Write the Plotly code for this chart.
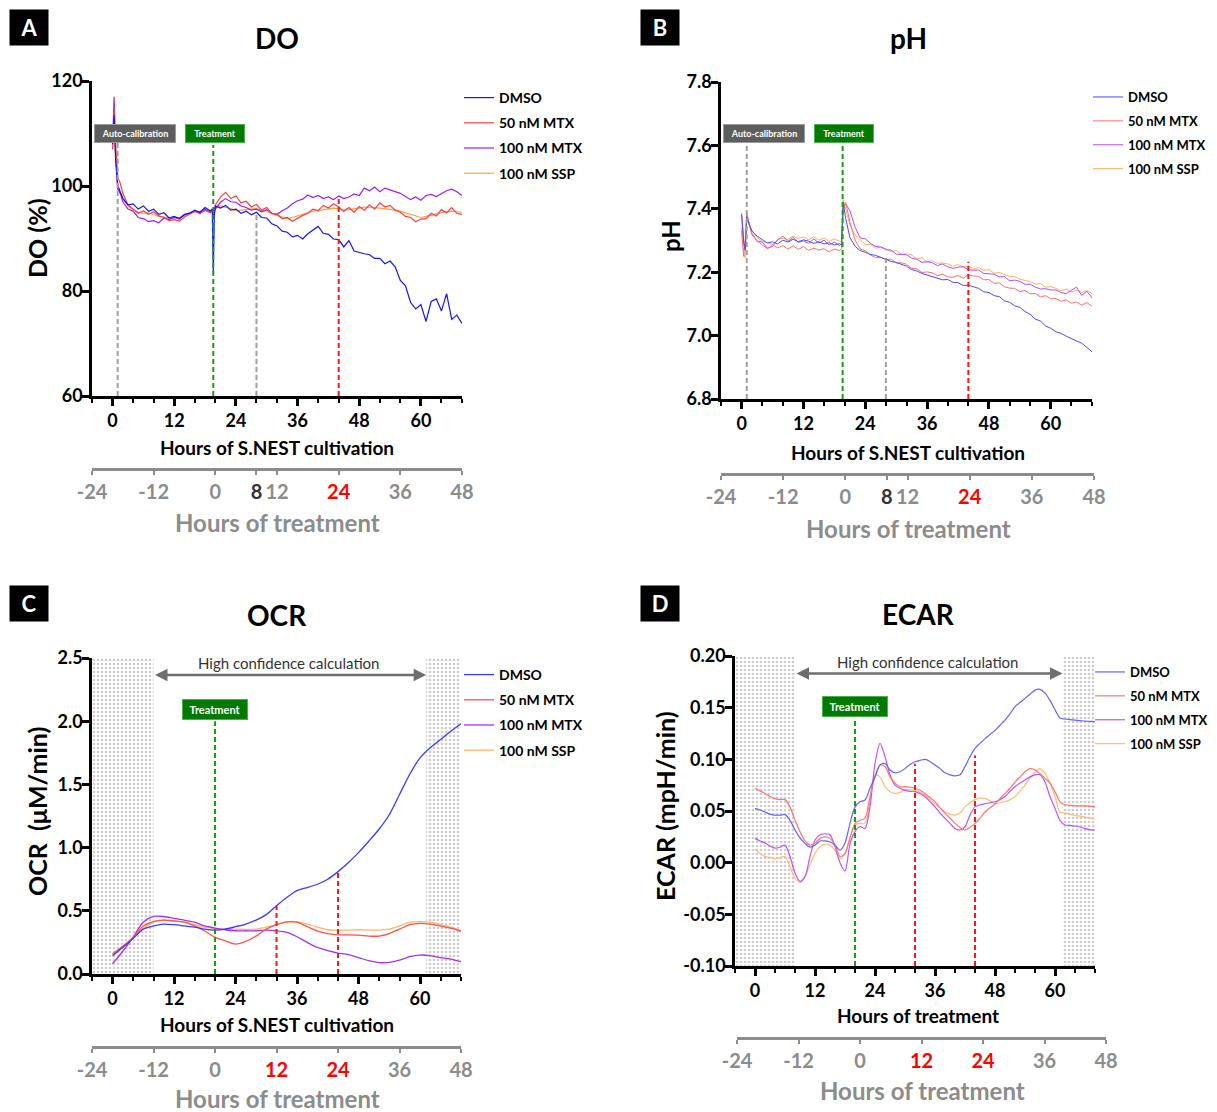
import plotly.graph_objects as go

# ---------------- data ----------------
SERIES_NAMES = ["DMSO", "50 nM MTX", "100 nM MTX", "100 nM SSP"]

# Panel A: dissolved oxygen (%) vs hours of S.NEST cultivation
DO_HOURS = [0, 0.3, 0.6, 1, 1.5, 2, 3, 4, 5, 6, 7, 8, 9, 10, 11, 12, 13, 14, 15, 16, 17, 18, 19,
            19.4, 19.6, 19.8, 20, 21, 22, 23, 24, 25, 26, 27, 28, 29, 30, 31, 32, 33, 34, 35, 36,
            37, 38, 39, 40, 41, 42, 43, 44, 45, 46, 47, 48, 49, 50, 51, 52, 53, 54, 55, 56, 57,
            58, 59, 60, 61, 62, 63, 64, 65, 66, 67, 68]
DO_DMSO = [108, 113.5, 105, 100.2, 98.8, 97.6, 96.4, 96.6, 95.6, 96.2, 95.2, 95.6, 94.6, 94.9, 93.9,
           94.2, 93.8, 94.6, 94.8, 95.4, 95.0, 95.9, 95.3, 95.6, 83.5, 94.5, 96.2, 95.8, 96.3, 95.4,
           95.6, 94.8, 95.2, 94.5, 95.0, 94.0, 93.9, 92.8, 92.4, 91.4, 91.2, 90.3, 90.6, 89.9, 90.9,
           91.6, 92.3, 91.0, 90.8, 89.9, 89.8, 88.4, 89.6, 87.6, 87.3, 87.1, 86.9, 86.2, 86.2, 85.2,
           85.7, 84.6, 82.0, 81.0, 77.8, 76.6, 77.4, 74.2, 78.0, 78.5, 76.2, 79.5, 74.6, 75.4, 73.8]
DO_MTX50 = [107, 115, 108, 101.7, 100.5, 98.6, 96.4, 95.6, 94.8, 95.3, 94.6, 95.1, 94.3, 94.0, 93.4,
            93.6, 93.3, 94.1, 94.6, 95.2, 94.7, 95.4, 94.9, 95.2, 94.6, 95.5, 96.4, 97.9, 98.8, 97.6,
            98.1, 96.8, 97.1, 96.0, 96.5, 95.4, 95.9, 94.8, 94.6, 93.8, 94.0, 93.3, 93.9, 94.4, 94.8,
            95.6, 95.3, 96.3, 95.8, 96.6, 96.0, 95.2, 95.9, 95.0, 96.1, 95.4, 96.4, 95.6, 96.8, 96.0,
            96.3, 95.4, 95.0, 94.2, 94.0, 93.2, 93.7, 93.8, 94.8, 94.3, 95.5, 94.9, 95.9, 94.8, 94.6]
DO_MTX100 = [108, 117, 106, 99.4, 98.6, 97.0, 95.6, 95.2, 94.0, 93.8, 93.2, 93.4, 93.0, 93.9, 93.6,
             94.0, 93.7, 94.5, 94.9, 95.2, 95.0, 95.6, 95.1, 95.4, 94.0, 95.0, 95.6, 96.9, 97.6, 97.0,
             96.9, 96.2, 95.9, 95.4, 95.6, 95.1, 95.5, 94.8, 94.6, 95.3, 95.8, 96.6, 97.2, 97.5, 98.3,
             97.8, 98.2, 97.6, 97.9, 97.4, 98.1, 97.6, 97.9, 98.5, 98.2, 99.6, 99.1, 99.8, 98.9, 99.6,
             99.3, 99.0, 98.6, 98.0, 97.4, 97.9, 97.3, 98.2, 98.4, 98.0, 98.6, 99.1, 99.4, 98.9, 98.2]
DO_SSP = [107, 113, 105, 99.6, 98.9, 97.8, 96.2, 95.5, 95.0, 94.8, 94.9, 94.6, 94.2, 94.1, 93.9,
          93.9, 94.0, 94.3, 94.8, 95.0, 95.2, 95.3, 95.1, 95.2, 95.0, 95.3, 95.8, 96.2, 96.0, 95.7,
          95.3, 95.4, 95.5, 95.6, 95.7, 95.4, 95.2, 94.7, 94.4, 94.1, 93.8, 94.0, 94.3, 94.6, 94.9,
          95.2, 95.3, 95.5, 95.6, 95.8, 95.7, 95.4, 95.5, 95.6, 95.8, 96.0, 96.0, 95.9, 95.8, 95.7,
          95.6, 95.4, 95.2, 94.9, 94.6, 94.2, 94.0, 94.2, 94.5, 94.7, 94.9, 95.0, 95.2, 95.1, 95.0]

# Panel B: pH vs hours of S.NEST cultivation
PH_HOURS = [0, 0.4, 0.7, 1, 1.5, 2, 3, 4, 5, 6, 7, 8, 9, 10, 11, 12, 13, 14, 15, 16, 17, 18, 19,
            19.4, 19.7, 20.2, 21, 22, 23, 24, 25, 26, 27, 28, 29, 30, 31, 32, 33, 34, 35, 36, 37,
            38, 39, 40, 41, 42, 43, 44, 45, 46, 47, 48, 49, 50, 51, 52, 53, 54, 55, 56, 57, 58, 59,
            60, 61, 62, 63, 64, 65, 66, 67, 68]
PH_DMSO = [7.385, 7.30, 7.27, 7.375, 7.35,
           7.33, 7.314, 7.303, 7.292, 7.296, 7.289, 7.301, 7.295, 7.304, 7.296, 7.302, 7.298, 7.291,
           7.296, 7.289, 7.293, 7.286, 7.29, 7.286,
           7.42, 7.37, 7.31,
           7.282, 7.268, 7.263, 7.256, 7.253, 7.246, 7.241, 7.234, 7.231, 7.224, 7.219, 7.208, 7.204,
           7.196, 7.191, 7.186, 7.183, 7.176, 7.177, 7.168, 7.167, 7.158, 7.159, 7.153, 7.149, 7.138,
           7.136, 7.126, 7.123, 7.11, 7.105, 7.094, 7.089, 7.076, 7.067, 7.052, 7.046, 7.03, 7.023,
           7.012, 7.007, 6.998, 6.991, 6.982, 6.976, 6.963, 6.949]
PH_MTX50 = [7.33, 7.25, 7.30, 7.39, 7.35,
            7.318, 7.299, 7.287, 7.274, 7.286, 7.277, 7.284, 7.273, 7.283, 7.272, 7.281, 7.269, 7.276,
            7.27, 7.274, 7.264, 7.273, 7.268, 7.275,
            7.40, 7.42, 7.36,
            7.302, 7.273, 7.268, 7.254, 7.246, 7.247, 7.239, 7.242, 7.229, 7.23, 7.225, 7.212, 7.211,
            7.199, 7.201, 7.198, 7.189, 7.194, 7.185, 7.184, 7.19, 7.181, 7.192, 7.188, 7.187, 7.176,
            7.177, 7.165, 7.166, 7.154, 7.15, 7.149, 7.139, 7.142, 7.132, 7.133, 7.122, 7.126, 7.116,
            7.117, 7.108, 7.113, 7.102, 7.106, 7.096, 7.104, 7.093]
PH_MTX100 = [7.38, 7.29, 7.27, 7.38, 7.35,
             7.323, 7.298, 7.295, 7.276, 7.281, 7.302, 7.314, 7.297, 7.31, 7.294, 7.299, 7.291, 7.305,
             7.292, 7.301, 7.286, 7.295, 7.284, 7.29,
             7.40, 7.415, 7.395,
             7.343, 7.308, 7.305, 7.291, 7.281, 7.28, 7.271, 7.27, 7.257, 7.256, 7.255, 7.244, 7.241,
             7.231, 7.233, 7.23, 7.221, 7.226, 7.217, 7.212, 7.216, 7.217, 7.208, 7.206, 7.207, 7.196,
             7.196, 7.194, 7.185, 7.186, 7.173, 7.175, 7.171, 7.162, 7.162, 7.153, 7.147, 7.148,
             7.144, 7.144, 7.136, 7.132, 7.143, 7.153, 7.127, 7.14, 7.119]
PH_SSP = [7.34, 7.26, 7.245, 7.37, 7.35,
          7.332, 7.309, 7.297, 7.293, 7.287, 7.303, 7.307, 7.303, 7.314, 7.306, 7.311, 7.302, 7.311,
          7.301, 7.308, 7.297, 7.305, 7.298, 7.296,
          7.43, 7.40, 7.35,
          7.318, 7.304, 7.287, 7.288, 7.276, 7.279, 7.274, 7.265, 7.269, 7.257, 7.258, 7.254, 7.242,
          7.246, 7.233, 7.236, 7.228, 7.229, 7.226, 7.219, 7.224, 7.217, 7.22, 7.21, 7.215, 7.206,
          7.208, 7.197, 7.199, 7.193, 7.187, 7.186, 7.178, 7.174, 7.171, 7.162, 7.164, 7.153,
          7.155, 7.149, 7.142, 7.147, 7.138, 7.143, 7.136, 7.142, 7.133]

# Panel C: OCR (uM/min)
OCR_HOURS = [0, 2, 4, 6, 8, 10, 12, 14, 16, 18, 20, 22, 24, 26, 28, 30, 32, 34, 36, 38, 40, 42, 44,
             46, 48, 50, 52, 54, 56, 58, 60, 62, 64, 66, 68]
OCR_DMSO = [0.145, 0.21, 0.28, 0.355, 0.38, 0.395, 0.39, 0.38, 0.37, 0.355, 0.347, 0.355, 0.374,
            0.395, 0.426, 0.47, 0.54, 0.605, 0.66, 0.684, 0.71, 0.75, 0.81, 0.88, 0.96, 1.05, 1.145,
            1.26, 1.42, 1.58, 1.71, 1.79, 1.855, 1.92, 1.98]
OCR_MTX50 = [0.16, 0.22, 0.29, 0.38, 0.415, 0.426, 0.42, 0.41, 0.38, 0.34, 0.29, 0.263, 0.237,
             0.258, 0.30, 0.355, 0.39, 0.413, 0.41, 0.374, 0.34, 0.32, 0.31, 0.31, 0.308, 0.30,
             0.30, 0.32, 0.355, 0.39, 0.40, 0.395, 0.38, 0.363, 0.34]
OCR_MTX100 = [0.08, 0.18, 0.29, 0.41, 0.455, 0.455, 0.44, 0.426, 0.41, 0.38, 0.363, 0.35, 0.342,
              0.342, 0.342, 0.347, 0.342, 0.33, 0.295, 0.25, 0.21, 0.184, 0.166, 0.153, 0.13,
              0.105, 0.09, 0.092, 0.11, 0.137, 0.15, 0.145, 0.13, 0.118, 0.097]
OCR_SSP = [0.153, 0.216, 0.29, 0.36, 0.415, 0.426, 0.42, 0.41, 0.39, 0.37, 0.36, 0.355, 0.355,
           0.353, 0.355, 0.37, 0.39, 0.413, 0.413, 0.395, 0.37, 0.35, 0.347, 0.347, 0.35, 0.347,
           0.347, 0.355, 0.38, 0.41, 0.415, 0.41, 0.39, 0.37, 0.337]

# Panel D: ECAR (mpH/min)
ECAR_HOURS = list(range(0, 69))
ECAR_DMSO = [0.0526, 0.051, 0.049, 0.047, 0.046, 0.046, 0.0465, 0.041, 0.0316, 0.024, 0.0187, 0.015,
             0.017, 0.021, 0.021, 0.020, 0.017, 0.012, 0.019, 0.038, 0.054, 0.059, 0.0606, 0.072,
             0.083, 0.0945, 0.096, 0.0897, 0.087, 0.088, 0.091, 0.095, 0.0977, 0.099, 0.100, 0.098,
             0.0945, 0.091, 0.087, 0.085, 0.084, 0.085, 0.093, 0.1026, 0.1106, 0.1155, 0.12, 0.124,
             0.128, 0.133, 0.138, 0.144, 0.151, 0.155, 0.159, 0.163, 0.167, 0.1677, 0.164, 0.157,
             0.148, 0.14, 0.139, 0.1385, 0.138, 0.1375, 0.137, 0.1368, 0.1365]
ECAR_MTX50 = [0.072, 0.0695, 0.067, 0.064, 0.062, 0.061, 0.061, 0.054, 0.041, 0.030, 0.021, 0.017,
              0.019, 0.0235, 0.025, 0.0235, 0.017, 0.006, 0.009, 0.0235, 0.038, 0.041, 0.043, 0.064,
              0.083, 0.0945, 0.093, 0.083, 0.077, 0.0735, 0.0735, 0.073, 0.072, 0.07, 0.067, 0.063,
              0.059, 0.053, 0.048, 0.043, 0.038, 0.034, 0.0316, 0.034, 0.038, 0.043, 0.049, 0.053,
              0.057, 0.062, 0.067, 0.072, 0.078, 0.083, 0.088, 0.091, 0.0897, 0.086, 0.0816, 0.077,
              0.0687, 0.059, 0.056, 0.0555, 0.055, 0.055, 0.055, 0.0545, 0.054]
ECAR_MTX100 = [0.0235, 0.021, 0.019, 0.016, 0.014, 0.015, 0.017, 0.006, -0.010, -0.018, -0.0135,
               0.006, 0.022, 0.027, 0.028, 0.027, 0.0155, 0.000, -0.008, 0.018, 0.030, 0.035, 0.033,
               0.054, 0.096, 0.1155, 0.1026, 0.085, 0.075, 0.072, 0.070, 0.069, 0.0687, 0.067,
               0.064, 0.059, 0.054, 0.048, 0.043, 0.038, 0.033, 0.0316, 0.035, 0.046, 0.054, 0.056,
               0.057, 0.058, 0.059, 0.061, 0.064, 0.069, 0.0735, 0.077, 0.080, 0.083, 0.085, 0.085,
               0.078, 0.064, 0.0526, 0.041, 0.0365, 0.036, 0.0355, 0.0345, 0.033, 0.032, 0.0316]
ECAR_SSP = [0.013, 0.009, 0.006, 0.005, 0.004, 0.005, 0.006, -0.004, -0.015, -0.019, -0.0135,
            -0.002, 0.009, 0.0155, 0.018, 0.017, 0.012, 0.004, 0.009, 0.025, 0.0365, 0.038, 0.038,
            0.061, 0.085, 0.083, 0.0735, 0.0687, 0.067, 0.068, 0.071, 0.0705, 0.070, 0.068, 0.0655,
            0.061, 0.057, 0.053, 0.049, 0.047, 0.046, 0.048, 0.054, 0.058, 0.061, 0.0625, 0.062,
            0.06, 0.057, 0.058, 0.059, 0.061, 0.064, 0.069, 0.075, 0.082, 0.088, 0.091, 0.0865,
            0.077, 0.064, 0.049, 0.048, 0.047, 0.0455, 0.045, 0.044, 0.043, 0.042]

# axis ticks / events
CULT_RANGE = [-4, 68]
TREAT_RANGE = [-24, 48]
TREAT_TICKS_AB = [-24, -12, 0, 8, 12, 24, 36, 48]
TREAT_TICKS_CD = [-24, -12, 0, 12, 24, 36, 48]
ECAR_TICKS = [-0.10, -0.05, 0.0, 0.05, 0.10, 0.15, 0.20]
ECAR_TICK_LABELS = ["-0.10", "-0.05", "0.00", "0.05", "0.10", "0.15", "0.20"]
LOW_CONF_START = 8      # end of first low-confidence window (cultivation h)
LOW_CONF_END_C = 61.2
LOW_CONF_END_D = 61.5

# ---------------- styling ----------------
# The page puts the figure 8px from the top-left corner; coordinates below are page pixels.
OX, OY = 8, 8
W, H = 1209, 1104
FONT = "Lato"
GRAY = "#8c8c8c"


def px(v):
    return (v - OX) / W


def py(v):
    return 1 - (v - OY) / H


fig = go.Figure()

COLORS = {
    "DO": ["#1414ff", "#ff3d3d", "#9a1ff5", "#ffa040"],
    "pH": ["#4a4aff", "#ff6e6e", "#b04dff", "#ffb060"],
    "OCR": ["#3a3aff", "#ff5050", "#a533ee", "#ffb366"],
    "ECAR": ["#6464ff", "#ff7373", "#bb55ff", "#ffbb77"],
}

panels = [
    ("DO", "x", "y", "legend", DO_HOURS, [DO_DMSO, DO_MTX50, DO_MTX100, DO_SSP], 1.2, "linear"),
    ("pH", "x2", "y2", "legend2", PH_HOURS, [PH_DMSO, PH_MTX50, PH_MTX100, PH_SSP], 1.0, "linear"),
    ("OCR", "x3", "y3", "legend3", OCR_HOURS, [OCR_DMSO, OCR_MTX50, OCR_MTX100, OCR_SSP], 1.3, "spline"),
    ("ECAR", "x4", "y4", "legend4", ECAR_HOURS, [ECAR_DMSO, ECAR_MTX50, ECAR_MTX100, ECAR_SSP], 1.2, "spline"),
]

# dotted low-confidence windows (C, D)
for xa, ya, x_end, ytop, ybot in [("x3", "y3", LOW_CONF_END_C, 2.5, 0.0),
                                   ("x4", "y4", LOW_CONF_END_D, 0.2, -0.1)]:
    for x0, x1 in [(CULT_RANGE[0], LOW_CONF_START), (x_end, CULT_RANGE[1])]:
        fig.add_trace(go.Scatter(
            x=[x0, x1, x1, x0, x0], y=[ybot, ybot, ytop, ytop, ybot],
            xaxis=xa, yaxis=ya, mode="lines", line=dict(width=0),
            fill="toself", fillcolor="white",
            fillpattern=dict(shape=".", fgcolor="#9a9a9a", bgcolor="white", size=4, solidity=0.35),
            showlegend=False, hoverinfo="skip"))

for key, xa, ya, leg, hours, series, lw, shape in panels:
    for i in reversed(range(4)):
        fig.add_trace(go.Scatter(
            x=hours, y=series[i], xaxis=xa, yaxis=ya, mode="lines",
            line=dict(color=COLORS[key][i], width=lw, shape=shape,
                      smoothing=0.8 if shape == "spline" else None),
            name=SERIES_NAMES[i], legend=leg, legendrank=i + 1,
            legendgroup=f"{leg}-{i}"))

# empty traces so that the "hours of treatment" axes get drawn
for xa, ya in [("x5", "y5"), ("x6", "y6"), ("x7", "y7"), ("x8", "y8")]:
    fig.add_trace(go.Scatter(x=TREAT_RANGE, y=[None, None], xaxis=xa, yaxis=ya, mode="lines",
                             showlegend=False, hoverinfo="skip"))

# ---------------- axes ----------------
tickfont = dict(family=FONT, size=18, color="black", weight="bold")


def main_x(dom):
    return dict(domain=[px(dom[0]), px(dom[1])], range=CULT_RANGE, showline=True, linecolor="black",
                linewidth=2.5, ticks="outside", ticklen=7, tickwidth=2.5, tickcolor="black",
                tick0=0, dtick=12, tickfont=tickfont, showgrid=False, zeroline=False,
                minor=dict(ticks="outside", tick0=0, dtick=4, ticklen=4, tickwidth=2, tickcolor="black",
                           showgrid=False),
                ticklabelstandoff=0, automargin=False)


def main_y(dom, rng, dtick, fmt):
    return dict(domain=[py(dom[1]), py(dom[0])], range=rng, showline=True, linecolor="black",
                linewidth=2.5, ticks="outside", ticklen=7, tickwidth=2.5, tickcolor="black",
                tick0=rng[0], dtick=dtick, tickformat=fmt, tickfont=tickfont, showgrid=False,
                zeroline=False, automargin=False, ticklabelstandoff=-4)


def sec_x(dom, anchor, ticks, red, dark):
    text = []
    for t in ticks:
        if t in red:
            text.append(f"<span style='color:#ff0000'>{t}</span>")
        elif t in dark:
            text.append(f"<span style='color:#333333'>{t}</span>")
        else:
            text.append(str(t))
    return dict(domain=[px(dom[0]), px(dom[1])], range=TREAT_RANGE, anchor=anchor, showline=True,
                linecolor=GRAY, linewidth=2.5, ticks="outside", ticklen=4, tickwidth=2, tickcolor=GRAY,
                tickmode="array", tickvals=ticks, ticktext=text,
                tickfont=dict(family=FONT, size=20, color=GRAY, weight="bold"),
                showgrid=False, zeroline=False, ticklabelstandoff=0, automargin=False)


def dummy_y(line_y, anchor):
    return dict(domain=[py(line_y), py(line_y - 1)], range=[0, 1], visible=False, anchor=anchor,
                showgrid=False, zeroline=False, automargin=False)


ecar_y = main_y((656, 966), [-0.1, 0.2], 0.05, ".2f")
ecar_y.update(tickmode="array", tickvals=ECAR_TICKS, ticktext=ECAR_TICK_LABELS)

layout = dict(
    width=W, height=H, margin=dict(l=0, r=0, t=0, b=0, pad=0, autoexpand=False),
    paper_bgcolor="white", plot_bgcolor="white", showlegend=True,
    font=dict(family=FONT, color="black"),
    xaxis=dict(main_x((92, 462)), anchor="y"),
    yaxis=dict(main_y((81, 396), [60, 120], 20, "d"), anchor="x"),
    xaxis2=dict(main_x((721, 1092)), anchor="y2"),
    yaxis2=dict(main_y((82, 399), [6.8, 7.8], 0.2, ".1f"), anchor="x2"),
    xaxis3=dict(main_x((92, 461)), anchor="y3"),
    yaxis3=dict(main_y((658, 974), [0, 2.5], 0.5, ".1f"), anchor="x3"),
    xaxis4=dict(main_x((735, 1095)), anchor="y4"),
    yaxis4=dict(ecar_y, anchor="x4"),
    xaxis5=sec_x((92, 462), "y5", TREAT_TICKS_AB, [24], [8]),
    yaxis5=dummy_y(468, "x5"),
    xaxis6=sec_x((721, 1094), "y6", TREAT_TICKS_AB, [24], [8]),
    yaxis6=dummy_y(473, "x6"),
    xaxis7=sec_x((92, 461), "y7", TREAT_TICKS_CD, [12, 24], []),
    yaxis7=dummy_y(1046, "x7"),
    xaxis8=sec_x((737, 1106), "y8", TREAT_TICKS_CD, [12, 24], []),
    yaxis8=dummy_y(1037, "x8"),
)


def legend_at(x, y, size=14):
    return dict(x=px(x), y=py(y), xanchor="left", yanchor="top", bgcolor="rgba(0,0,0,0)",
                font=dict(family=FONT, size=size, color="black", weight="bold"),
                tracegroupgap=4, itemwidth=30, traceorder="grouped")


layout["legend"] = legend_at(459, 82)
layout["legend2"] = legend_at(1088, 82, 13)
layout["legend3"] = legend_at(459, 659)
layout["legend4"] = legend_at(1090, 657, 13)

fig.update_layout(**layout)

# ---------------- event lines ----------------
shapes = []


def vline(xa, ya, x, y0, y1, color):
    shapes.append(dict(type="line", xref=xa, yref=ya, x0=x, x1=x, y0=y0, y1=y1,
                       line=dict(color=color, width=2, dash="5px,3px")))


GRN, RED, GRY = "#14a014", "#ff1414", "#a0a0a0"
vline("x", "y", 1.0, 60, 108.4, GRY)
vline("x", "y", 19.6, 60, 107.8, GRN)
vline("x", "y", 28.0, 60, 95.1, GRY)
vline("x", "y", 44.0, 60, 98.0, RED)
vline("x2", "y2", 1.0, 6.8, 7.60, GRY)
vline("x2", "y2", 19.6, 6.8, 7.60, GRN)
vline("x2", "y2", 28.0, 6.8, 7.249, GRY)
vline("x2", "y2", 44.0, 6.8, 7.233, RED)
vline("x3", "y3", 20.0, 0, 2.0, GRN)
vline("x3", "y3", 32.0, 0, 0.54, RED)
vline("x3", "y3", 44.0, 0, 0.81, RED)
vline("x4", "y4", 20.0, -0.1, 0.138, GRN)
vline("x4", "y4", 32.0, -0.1, 0.0957, RED)
vline("x4", "y4", 44.0, -0.1, 0.1038, RED)
fig.update_layout(shapes=shapes)

# ---------------- text ----------------
anns = []


def ann(text, x, y, size, color="black", bold=True, **kw):
    d = dict(text=text, x=px(x), y=py(y), xref="paper", yref="paper", showarrow=False,
             xanchor="center", yanchor="middle",
             font=dict(family=FONT, size=size, color=color, weight="bold" if bold else "normal"))
    d.update(kw)
    anns.append(d)


# panel letters
for letter, cx, cy in [("A", 29, 27), ("B", 660, 27), ("C", 29, 603), ("D", 660, 603)]:
    ann(letter, cx, cy, 22, color="white", bgcolor="black", width=36, height=33, borderpad=1)

# titles
ann("DO", 277, 38, 28)
ann("pH", 908, 38, 28)
ann("OCR", 277, 615, 28)
ann("ECAR", 918, 614, 28)

# y titles
ann("DO (%)", 37, 238, 25, textangle=-90)
ann("pH", 670, 236, 24, textangle=-90)
ann("OCR  (μM/min)", 37, 812, 25, textangle=-90)
ann("ECAR (mpH/min)", 665, 806, 25, textangle=-90)

# x titles
ann("Hours of S.NEST cultivation", 277, 447, 19)
ann("Hours of S.NEST cultivation", 908, 452, 19)
ann("Hours of S.NEST cultivation", 277, 1024, 19)
ann("Hours of treatment", 918, 1015, 19)

# secondary titles
ann("Hours of treatment", 277, 522, 24, color=GRAY)
ann("Hours of treatment", 908, 528, 24, color=GRAY)
ann("Hours of treatment", 277, 1098, 24, color=GRAY)
ann("Hours of treatment", 922, 1090, 24, color=GRAY)

# event labels
ann("Auto-calibration", 135, 133, 9, color="white", bgcolor="#5e5e5e", bordercolor="#9a9a9a",
    width=78, height=15, borderpad=1)
ann("Treatment", 214.5, 133, 9, color="white", bgcolor="#007a00", bordercolor="#4caf4c",
    width=56, height=15, borderpad=1)
ann("Auto-calibration", 763.5, 133.5, 9, color="white", bgcolor="#5e5e5e", bordercolor="#9a9a9a",
    width=78, height=15, borderpad=1)
ann("Treatment", 844, 133.5, 9, color="white", bgcolor="#007a00", bordercolor="#4caf4c",
    width=56, height=15, borderpad=1)
ann("Treatment", 214.5, 709.5, 11, color="white", bgcolor="#007a00", bordercolor="#4caf4c",
    width=62, height=17, borderpad=1)
ann("Treatment", 855, 706.5, 11, color="white", bgcolor="#007a00", bordercolor="#4caf4c",
    width=62, height=17, borderpad=1)

# high confidence
ann("High confidence calculation", 289, 663, 15, color="#333333", bold=False)
ann("High confidence calculation", 927.5, 661.5, 15, color="#333333", bold=False)
for xa, ya, x_end, yv in [("x3", "y3", LOW_CONF_END_C, 2.365), ("x4", "y4", LOW_CONF_END_D, 0.183)]:
    anns.append(dict(text="", x=x_end, y=yv, ax=LOW_CONF_START, ay=yv, xref=xa, yref=ya,
                     axref=xa, ayref=ya, showarrow=True, arrowhead=2, arrowside="end+start",
                     arrowsize=1, arrowwidth=2.5, arrowcolor="#6e6e6e", standoff=0, startstandoff=0))

fig.update_layout(annotations=anns)

fig.write_html("out.html")
